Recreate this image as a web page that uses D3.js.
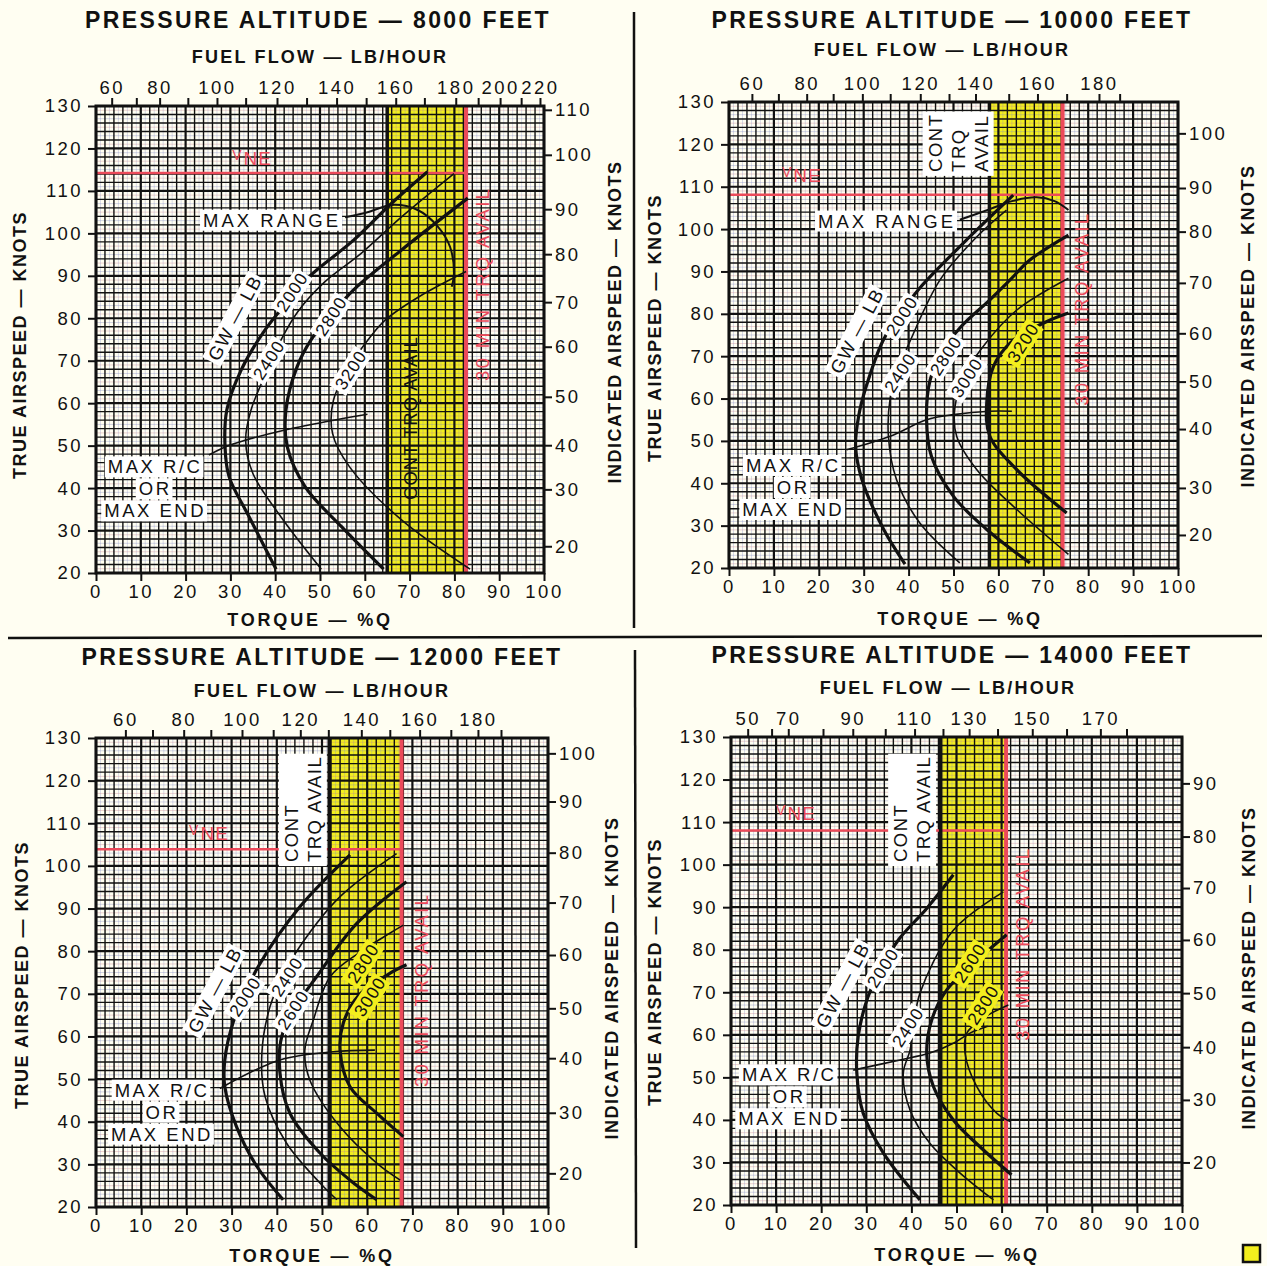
<!DOCTYPE html>
<html>
<head>
<meta charset="utf-8">
<script src="https://cdn.jsdelivr.net/npm/d3@7"></script>
<style>
  body { margin: 0; background: #fffef2; }
  svg { display: block; }
  text { font-family: "Liberation Sans", Arial, sans-serif; }
</style>
</head>
<body>
<svg id="chart" width="1267" height="1266"></svg>
<script>
var altitudes = [8000, 10000, 12000, 14000];
var contTorque = [65, 58, 51.6, 46.5];
var thirtyMinTorque = [82.6, 74.3, 67.6, 61];
var vneKnots = [114.2, 108.1, 103.9, 108.0];
var torqueTicks = d3.range(0, 101, 10);
var tasTicks = d3.range(20, 131, 10);

// 8000 ft
var fuel8000 = [60,70,80,90,100,110,120,130,140,150,160,170,180,190,200,210,220];
var fuelPos8000 = [3.5,9.0,14.2,20.5,27.0,33.4,40.4,47.0,53.7,60.3,66.9,73.3,80.3,85.3,90.2,94.9,99.1];
var fuelLabels8000 = [60,80,100,120,140,160,180,200,220];
var ias8000 = [110,100,90,80,70,60,50,40,30,20];
var iasPos8000 = [129.1,118.5,105.7,95.1,83.8,73.3,61.5,50.1,39.7,26.3];
var gw8000 = [2000,2400,2800,3200];
var curves8000 = [
  [[40.2,20.9],[34.2,33.2],[29.7,42.7],[28.8,49.7],[29.2,58.4],[32.4,67.8],[37.7,77.2],[43.1,84.3],[47.6,89.8],[57.5,98.4],[66.0,107.1],[74.0,114.5]],
  [[50.3,20.9],[41.3,33.2],[35.0,43.5],[33.4,51.3],[34.6,58.4],[37.5,66.0],[41.3,74.9],[45.0,81.5],[51.0,88.5],[59.2,95.3],[68.2,103.9],[79.9,114.1]],
  [[64.2,20.9],[54.8,30.9],[46.7,40.3],[42.7,49.7],[42.4,58.4],[44.9,68.6],[48.0,74.9],[52.5,80.8],[57.5,86.7],[68.2,96.1],[83.0,108.3]],
  [[83.5,20.9],[68.2,32.5],[56.6,45.0],[52.8,52.9],[53.0,60.7],[56.5,68.5],[61.0,75.3],[64.6,79.6],[72.0,85.0],[82.6,91.0]]
];
var maxRange8000 = [[55.6,103.8],[61.0,105.1],[66.0,106.7],[71.8,105.5],[76.3,101.6],[79.0,96.9],[79.9,90.6],[79.4,87.4]];
var maxRC8000 = [[25.2,47.8],[28.8,49.7],[33.4,51.3],[42.2,53.7],[53.0,56.0],[60.6,57.4]];

// 10000 ft
var fuel10000 = [60,70,80,90,100,110,120,130,140,150,160,170,180,190];
var fuelPos10000 = [5.1,11.0,17.3,23.2,29.7,35.9,42.6,49.0,54.9,62.3,68.7,75.2,82.4,87.0];
var fuelLabels10000 = [60,80,100,120,140,160,180];
var ias10000 = [100,90,80,70,60,50,40,30,20];
var iasPos10000 = [122.6,109.7,99.4,87.3,75.4,64.0,52.8,38.9,27.8];
var gw10000 = [2000,2400,2800,3000,3200];
var curves10000 = [
  [[39.2,20.9],[34.4,29.2],[29.6,40.9],[28.2,48.7],[28.9,56.0],[30.6,63.0],[34.4,73.9],[38.5,80.5],[42.5,86.1],[52.2,96.7],[63.3,108.0]],
  [[51.4,21.2],[42.5,30.6],[37.3,40.9],[35.5,51.1],[35.9,60.1],[37.5,66.5],[40.3,73.5],[47.0,88.0],[55.2,98.2],[61.8,104.5]],
  [[67.0,21.2],[57.4,29.1],[50.0,36.9],[45.1,46.3],[44.0,55.0],[44.8,64.4],[47.5,71.0],[51.7,77.0],[58.1,83.3],[62.6,88.0],[67.0,92.7],[75.6,98.6]],
  [[75.6,23.2],[64.1,33.8],[55.2,43.2],[50.7,51.1],[50.3,57.8],[52.5,65.5],[56.6,72.3],[64.1,80.9],[75.6,88.4]],
  [[75.2,33.0],[64.1,43.2],[58.1,51.1],[57.4,58.9],[58.9,67.6],[63.0,73.5],[70.8,78.2],[75.6,80.2]]
];
var maxRange10000 = [[51.4,102.2],[58.1,104.7],[63.0,106.6],[68.5,107.5],[72.5,106.6],[75.6,104.5]];
var maxRC10000 = [[26.2,47.9],[35.9,51.1],[44.0,55.0],[50.0,56.2],[58.1,57.0],[63.0,57.0]];

// 12000 ft
var fuel12000 = [60,70,80,90,100,110,120,130,140,150,160,170,180,190];
var fuelPos12000 = [6.5,12.5,19.4,25.4,32.3,39.2,45.2,51.4,58.7,65.0,71.6,78.5,84.5,89.6];
var fuelLabels12000 = [60,80,100,120,140,160,180];
var ias12000 = [100,90,80,70,60,50,40,30,20];
var iasPos12000 = [126.4,115.1,103.1,91.4,79.1,66.6,54.9,42.1,27.9];
var gw12000 = [2000,2400,2600,2800,3000];
var curves12000 = [
  [[41.4,21.7],[35.6,29.5],[31.1,38.8],[28.5,48.2],[28.5,54.5],[30.4,63.5],[33.0,70.0],[35.9,76.4],[45.1,90.4],[56.2,102.6]],
  [[53.3,21.7],[50.3,24.8],[42.2,34.9],[37.4,45.9],[36.7,56.1],[38.5,67.0],[41.5,74.5],[45.1,81.1],[54.0,92.8],[66.5,102.9]],
  [[62.1,21.7],[56.2,26.3],[49.6,32.6],[42.9,42.0],[40.7,51.4],[41.1,60.0],[44.5,67.5],[48.8,74.0],[57.7,86.5],[68.7,96.3]],
  [[67.3,26.3],[62.1,30.3],[54.0,38.8],[47.3,49.8],[46.2,56.8],[48.1,63.9],[51.8,74.0],[58.0,79.5],[65.0,84.2],[68.0,86.1]],
  [[68.0,36.5],[62.1,42.0],[56.2,48.2],[54.0,56.8],[54.7,63.1],[58.0,69.5],[65.0,74.8],[68.7,76.8]]
];
var maxRC12000 = [[27.4,47.8],[40.7,54.5],[52.5,56.4],[61.7,56.8]];

// 14000 ft
var fuel14000 = [50,60,70,80,90,100,110,120,130,140,150,160,170,180];
var fuelPos14000 = [3.7,9.0,12.7,20.4,27.0,34.2,40.7,47.0,52.8,59.1,66.8,74.4,81.9,87.7];
var fuelLabels14000 = [50,70,90,110,130,150,170];
var ias14000 = [90,80,70,60,50,40,30,20];
var iasPos14000 = [119.1,106.6,94.5,82.3,69.8,57.1,44.7,30.0];
var gw14000 = [2000,2400,2600,2800];
var curves14000 = [
  [[41.9,21.2],[33.8,32.2],[29.3,41.6],[27.9,51.0],[28.2,59.6],[30.4,69.0],[33.5,76.0],[37.1,82.3],[43.4,89.7],[49.3,97.6]],
  [[58.2,21.2],[50.8,27.5],[44.1,34.5],[39.7,42.3],[38.2,51.0],[39.7,56.4],[40.5,62.0],[41.9,69.8],[49.3,84.6],[60.4,93.6]],
  [[62.2,27.1],[55.2,33.7],[49.3,40.0],[44.9,47.8],[43.4,55.7],[44.5,63.5],[47.8,70.5],[54.0,77.0],[61.1,83.5]],
  [[61.9,39.6],[58.9,41.6],[54.5,47.8],[51.9,55.7],[52.3,60.4],[56.0,64.0],[61.5,67.0]]
];
var maxRC14000 = [[27.1,51.7],[37.5,54.1],[44.1,55.7],[49.3,58.0],[53.0,60.4],[56.9,62.0]];

var YELLOW = "#f3ee1e", RED = "#ec4a5a", INK = "#111111";

// layout for each panel (pixel boxes and label anchors)
var panels = [
  { alt: altitudes[0], left: 96, right: 544, top: 106, bottom: 573,
    fuel: fuel8000, fuelPos: fuelPos8000, fuelLabels: fuelLabels8000, ias: ias8000, iasPos: iasPos8000,
    gw: gw8000, curves: curves8000, maxRange: maxRange8000, maxRC: maxRC8000,
    cont: contTorque[0], thirty: thirtyMinTorque[0], vne: vneKnots[0],
    gwAt: [[31.0,80.1],[43.8,86.2],[38.6,70.2],[52.5,80.5],[56.9,67.8]],
    maxRangeAt: [39.3,103.1], maxRCAt: [13.2,45.0],
    contLines: ["CONT TRQ AVAIL"], contAt: [70.1,56.5], contBox: false,
    thirtyAt: [86.2,88.1], vneAt: [30.4,116.1],
    title: [318,20], fuelTitle: [320,57], torqueTitle: [310,620], tasTitle: [20,345], iasTitle: [615,322] },
  { alt: altitudes[1], left: 729, right: 1178, top: 102, bottom: 568,
    fuel: fuel10000, fuelPos: fuelPos10000, fuelLabels: fuelLabels10000, ias: ias10000, iasPos: iasPos10000,
    gw: gw10000, curves: curves10000, maxRange: maxRange10000, maxRC: maxRC10000,
    cont: contTorque[1], thirty: thirtyMinTorque[1], vne: vneKnots[1],
    gwAt: [[28.5,76.0],[38.5,79.5],[38.1,66.1],[48.3,70.1],[53.0,64.9],[65.5,73.2]],
    maxRangeAt: [35.2,101.9], maxRCAt: [14.3,44.2],
    contLines: ["CONT","TRQ","AVAIL"], contAt: [45.8,113.5], contBox: true,
    thirtyAt: [78.6,81.2], vneAt: [11.8,111.1],
    title: [952,20], fuelTitle: [942,50], torqueTitle: [960,619], tasTitle: [655,328], iasTitle: [1248,326] },
  { alt: altitudes[2], left: 96, right: 548, top: 738, bottom: 1207,
    fuel: fuel12000, fuelPos: fuelPos12000, fuelLabels: fuelLabels12000, ias: ias12000, iasPos: iasPos12000,
    gw: gw12000, curves: curves12000, maxRange: null, maxRC: maxRC12000,
    cont: contTorque[2], thirty: thirtyMinTorque[2], vne: vneKnots[2],
    gwAt: [[26.3,70.9],[33.0,69.3],[42.3,74.0],[43.6,66.2],[59.1,77.2],[60.6,69.3]],
    maxRangeAt: null, maxRCAt: [14.6,47.4],
    contLines: ["CONT","TRQ AVAIL"], contAt: [43.1,100.9], contBox: true,
    thirtyAt: [72.1,70.9], vneAt: [20.6,106.1],
    title: [322,657], fuelTitle: [322,691], torqueTitle: [312,1256], tasTitle: [22,975], iasTitle: [612,978] },
  { alt: altitudes[3], left: 731, right: 1182, top: 737, bottom: 1205,
    fuel: fuel14000, fuelPos: fuelPos14000, fuelLabels: fuelLabels14000, ias: ias14000, iasPos: iasPos14000,
    gw: gw14000, curves: curves14000, maxRange: null, maxRC: maxRC14000,
    cont: contTorque[3], thirty: thirtyMinTorque[3], vne: vneKnots[3],
    gwAt: [[24.8,71.7],[33.7,75.7],[39.2,61.8],[53.0,76.9],[55.9,67.0]],
    maxRangeAt: null, maxRCAt: [12.9,50.6],
    contLines: ["CONT","TRQ AVAIL"], contAt: [37.5,100.6], contBox: true,
    thirtyAt: [64.7,81.4], vneAt: [10.0,110.5],
    title: [952,655], fuelTitle: [948,688], torqueTitle: [957,1255], tasTitle: [655,972], iasTitle: [1249,968] }
];

var svg = d3.select("#chart");
svg.append("rect").attr("width", 1267).attr("height", 1266).attr("fill", "#fffef2");

function boxed(g, str, cx, cy, angle, bg, size, ls) {
  var t = g.append("g").attr("transform", "translate(" + cx + "," + cy + ") rotate(" + angle + ")");
  var r = t.append("rect");
  var txt = t.append("text")
      .attr("text-anchor", "middle")
      .attr("dominant-baseline", "central")
      .attr("font-size", size || 18)
      .attr("letter-spacing", ls == null ? 2 : ls)
      .attr("fill", INK)
      .text(str);
  var b = txt.node().getBBox();
  r.attr("x", b.x - 3).attr("y", b.y).attr("width", b.width + 4).attr("height", b.height)
   .attr("fill", bg);
  return t;
}

function styleAxis(sel) {
  sel.select(".domain").remove();
  sel.selectAll(".tick line").attr("stroke", INK).attr("stroke-width", 2);
  sel.selectAll(".tick text")
      .attr("font-family", '"Liberation Sans", Arial, sans-serif')
      .attr("font-size", 18.5)
      .attr("letter-spacing", 2.5)
      .attr("fill", INK);
}

function drawPanel(p) {
  var g = svg.append("g");
  var x = d3.scaleLinear().domain([0, 100]).range([p.left, p.right]);
  var y = d3.scaleLinear().domain([20, 130]).range([p.bottom, p.top]);

  // power band
  g.append("rect")
      .attr("x", x(p.cont)).attr("y", y(130))
      .attr("width", x(p.thirty) - x(p.cont)).attr("height", y(20) - y(130))
      .attr("fill", YELLOW);

  // faint halftone rulings between the printed grid lines
  var odd = g.append("g");
  odd.selectAll("line.v").data(d3.range(1, 100, 2)).enter().append("line")
      .attr("x1", d => x(d)).attr("x2", d => x(d)).attr("y1", y(130)).attr("y2", y(20))
      .attr("stroke", "#7f88c4").attr("stroke-opacity", 0.3).attr("stroke-width", 1);
  odd.selectAll("line.h").data(d3.range(21, 130, 2)).enter().append("line")
      .attr("x1", x(0)).attr("x2", x(100)).attr("y1", d => y(d)).attr("y2", d => y(d))
      .attr("stroke", (d, i) => i % 2 ? "#7f88c4" : "#c98090").attr("stroke-opacity", 0.35).attr("stroke-width", 1);

  // grid
  var grid = g.append("g").attr("stroke", INK);
  grid.selectAll("line.gx").data(d3.range(0, 101, 2)).enter().append("line")
      .attr("x1", d => x(d)).attr("x2", d => x(d)).attr("y1", y(130)).attr("y2", y(20))
      .attr("stroke-width", d => d % 10 === 0 ? 2.2 : 1.4);
  grid.selectAll("line.gy").data(d3.range(20, 131, 2)).enter().append("line")
      .attr("x1", x(0)).attr("x2", x(100)).attr("y1", d => y(d)).attr("y2", d => y(d))
      .attr("stroke-width", d => d % 10 === 0 ? 2.2 : 1.4);

  // limits
  g.append("line").attr("x1", x(0)).attr("x2", x(p.thirty)).attr("y1", y(p.vne)).attr("y2", y(p.vne))
      .attr("stroke", RED).attr("stroke-width", 2.5);
  g.append("line").attr("x1", x(p.thirty)).attr("x2", x(p.thirty)).attr("y1", y(130)).attr("y2", y(20))
      .attr("stroke", RED).attr("stroke-width", 4);
  g.append("line").attr("x1", x(p.cont)).attr("x2", x(p.cont)).attr("y1", y(130)).attr("y2", y(20))
      .attr("stroke", INK).attr("stroke-width", 3.5);

  // frame
  g.append("rect").attr("x", x(0)).attr("y", y(130)).attr("width", x(100) - x(0)).attr("height", y(20) - y(130))
      .attr("fill", "none").attr("stroke", INK).attr("stroke-width", 3);

  // weight curves
  var line = d3.line().x(d => x(d[0])).y(d => y(d[1])).curve(d3.curveCatmullRom.alpha(0.5));
  g.selectAll("path.gw").data(p.curves).enter().append("path")
      .attr("d", line).attr("fill", "none").attr("stroke", INK)
      .attr("stroke-width", (d, i) => i % 2 === 0 ? 3.2 : 1.6);
  if (p.maxRange) {
    g.append("path").datum(p.maxRange).attr("d", line).attr("fill", "none")
        .attr("stroke", INK).attr("stroke-width", 2);
  }
  g.append("path").datum(p.maxRC).attr("d", line).attr("fill", "none")
      .attr("stroke", INK).attr("stroke-width", 1.6);

  // curve labels
  function bgAt(t) { return (t > p.cont && t < p.thirty) ? YELLOW : "#ffffff"; }
  var names = ["GW \u2014 LB"].concat(p.gw.map(String));
  names.forEach(function (n, i) {
    var a = p.gwAt[i];
    boxed(g, n, x(a[0]), y(a[1]), i === 0 ? -62 : -57, bgAt(a[0]), i === 0 ? 18.5 : 17.5, i === 0 ? 1.5 : 1);
  });

  if (p.maxRangeAt) boxed(g, "MAX RANGE", x(p.maxRangeAt[0]), y(p.maxRangeAt[1]), 0, "#ffffff", 18.5, 3);
  var rc = p.maxRCAt;
  boxed(g, "MAX R/C", x(rc[0]), y(rc[1]), 0, "#ffffff", 18.5, 2.5);
  boxed(g, "OR", x(rc[0]), y(rc[1]) + 22, 0, "#ffffff", 18.5, 2.5);
  boxed(g, "MAX END", x(rc[0]), y(rc[1]) + 44, 0, "#ffffff", 18.5, 2.5);

  // continuous torque label
  if (!p.contBox) {
    g.append("text")
        .attr("transform", "translate(" + x(p.contAt[0]) + "," + y(p.contAt[1]) + ") rotate(-90)")
        .attr("text-anchor", "middle").attr("dominant-baseline", "central")
        .attr("font-size", 18.5).attr("letter-spacing", 1).attr("fill", INK)
        .text(p.contLines[0]);
  } else {
    var cg = g.append("g").attr("transform", "translate(" + x(p.contAt[0]) + "," + y(p.contAt[1]) + ") rotate(-90)");
    var cr = cg.append("rect");
    var ct = cg.append("text").attr("font-size", 18.5).attr("letter-spacing", 1.5).attr("fill", INK);
    p.contLines.forEach(function (s, i) {
      ct.append("tspan").attr("x", 0).attr("y", 7 + i * 23).text(s);
    });
    var b = ct.node().getBBox();
    cr.attr("x", b.x - 4).attr("y", b.y - 2).attr("width", b.width + 6).attr("height", b.height + 4)
      .attr("fill", "#ffffff");
  }

  // 30 minute label
  g.append("text")
      .attr("transform", "translate(" + x(p.thirtyAt[0]) + "," + y(p.thirtyAt[1]) + ") rotate(-90)")
      .attr("text-anchor", "middle").attr("dominant-baseline", "central")
      .attr("font-size", 18.5).attr("letter-spacing", 2.3).attr("fill", RED)
      .text("30 MIN TRQ AVAIL");

  // VNE
  var vt = g.append("text").attr("x", x(p.vneAt[0])).attr("y", y(p.vneAt[1]))
      .attr("fill", RED).attr("font-size", 19).attr("letter-spacing", 1);
  vt.append("tspan").attr("font-size", 14).attr("dy", -5).text("V");
  vt.append("tspan").attr("dy", 5).attr("dx", 1).text("NE");

  // axes
  var ax = g.append("g").attr("transform", "translate(" + x(0) + ",0)")
      .call(d3.axisLeft(y).tickValues(tasTicks).tickSize(8).tickPadding(5));
  styleAxis(ax);
  ax = g.append("g").attr("transform", "translate(0," + y(20) + ")")
      .call(d3.axisBottom(x).tickValues(torqueTicks).tickSize(8).tickPadding(4));
  styleAxis(ax);

  var fuelX = d3.scaleLinear().domain(p.fuel).range(p.fuelPos.map(x));
  ax = g.append("g").attr("transform", "translate(0," + y(130) + ")")
      .call(d3.axisTop(fuelX).tickValues(p.fuel).tickSize(8).tickPadding(4)
        .tickFormat(d => p.fuelLabels.indexOf(d) >= 0 ? d : ""));
  styleAxis(ax);

  var iasY = d3.scaleLinear().domain(p.ias).range(p.iasPos.map(y));
  ax = g.append("g").attr("transform", "translate(" + x(100) + ",0)")
      .call(d3.axisRight(iasY).tickValues(p.ias).tickSize(8).tickPadding(3));
  styleAxis(ax);

  // titles
  function title(txt, pos, size, ls, rot) {
    g.append("text")
        .attr("transform", "translate(" + pos[0] + "," + pos[1] + ")" + (rot ? " rotate(-90)" : ""))
        .attr("text-anchor", "middle").attr("dominant-baseline", "central")
        .attr("font-weight", "bold").attr("font-size", size).attr("letter-spacing", ls)
        .attr("fill", INK).text(txt);
  }
  title("PRESSURE ALTITUDE \u2014 " + p.alt + " FEET", p.title, 23, 2.4, false);
  title("FUEL FLOW \u2014 LB/HOUR", p.fuelTitle, 18, 2.2, false);
  title("TORQUE \u2014 %Q", p.torqueTitle, 18, 2.8, false);
  title("TRUE AIRSPEED \u2014 KNOTS", p.tasTitle, 18, 1.5, true);
  title("INDICATED AIRSPEED \u2014 KNOTS", p.iasTitle, 18, 1.5, true);
}

panels.forEach(drawPanel);

// page dividers
var div = svg.append("g").attr("stroke", INK).attr("stroke-width", 2.5);
div.append("line").attr("x1", 634).attr("x2", 634).attr("y1", 12).attr("y2", 628);
div.append("line").attr("x1", 8).attr("x2", 1262).attr("y1", 638).attr("y2", 636);
div.append("line").attr("x1", 635).attr("x2", 636).attr("y1", 650).attr("y2", 1248);
svg.append("rect").attr("x", 1243).attr("y", 1245).attr("width", 17).attr("height", 17)
    .attr("fill", YELLOW).attr("stroke", INK).attr("stroke-width", 2.5);
</script>
</body>
</html>
